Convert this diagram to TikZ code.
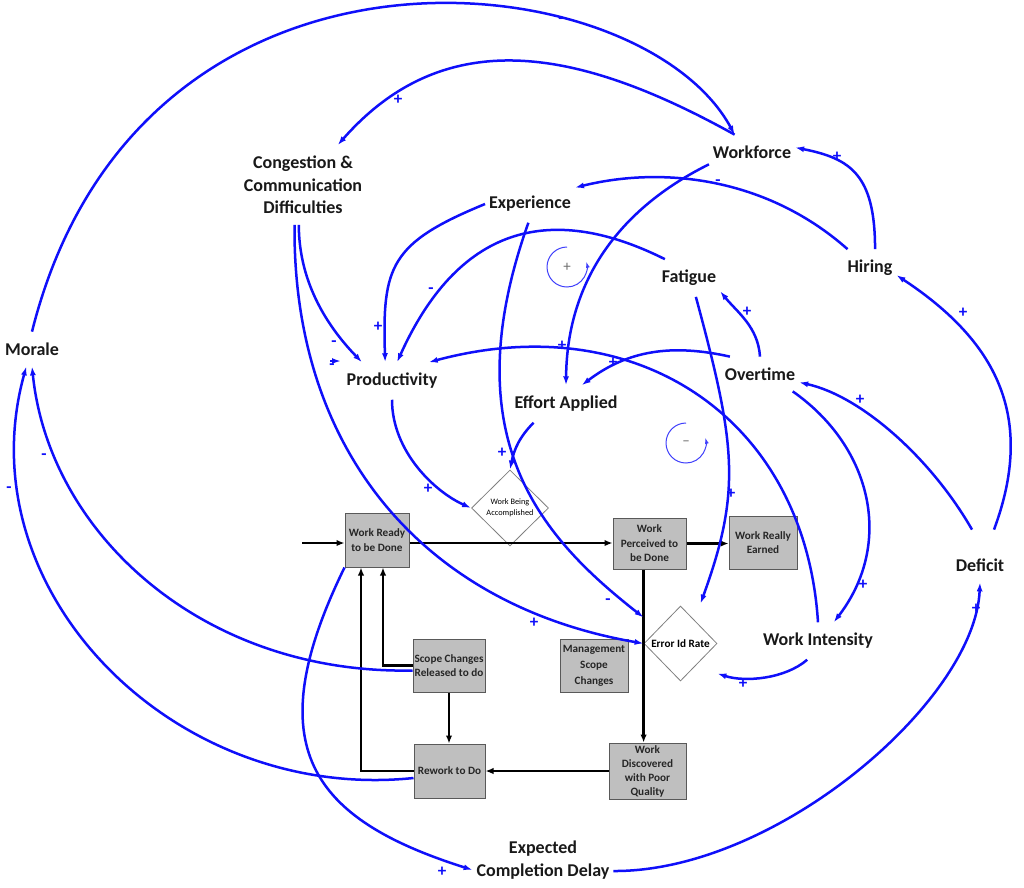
\documentclass[tikz,border=0pt]{standalone}
\usepackage{fontspec}
\setmainfont{Carlito}
\usetikzlibrary{arrows.meta,shapes.geometric}

\definecolor{cld}{RGB}{15,15,250}
\definecolor{stockfill}{RGB}{191,191,191}
\definecolor{stockline}{RGB}{89,89,89}
\definecolor{ratedraw}{RGB}{128,128,128}
\definecolor{loopgray}{RGB}{110,110,110}

\tikzset{
  var/.style={font=\fontsize{18}{22.5}\selectfont\bfseries, text=black!90, align=center, inner sep=2pt, outer xsep=2pt, outer ysep=9pt},
  stock/.style={draw=stockline, fill=stockfill, line width=1pt, align=center, inner sep=1pt, font=\fontsize{11.2}{14.5}\selectfont\bfseries, text=black!85},
  rate/.style={diamond, draw=ratedraw, fill=white, line width=0.8pt, inner sep=0pt, align=center},
  link/.style={draw=cld, line width=2.5pt, -{Latex[length=9pt,width=6pt]}},
  flow/.style={draw=black, line width=2.7pt, -{Latex[length=8pt,width=6.5pt]}},
  pol/.style={text=cld, font=\fontsize{17}{17}\selectfont\bfseries, inner sep=0pt},
  loopsign/.style={text=loopgray, font=\fontsize{15}{15}\selectfont, inner sep=0pt},
  loopring/.style={draw=cld!80, line width=1pt, -{Latex[length=6pt,width=4pt]}}
}

\begin{document}
\begin{tikzpicture}[x=1pt, y=-1pt]
  \fill[white] (0,0) rectangle (1024,887);
  \useasboundingbox (0,0) rectangle (1024,887);

  % variables
  \node (morale) at (32, 349) [var] {Morale};
  \node (cong) at (303, 185) [var] {Congestion \&\\Communication\\Difficulties};
  \node (wf) at (752, 152) [var] {Workforce};
  \node (exp) at (530, 204) [var] {Experience};
  \node (fat) at (689, 278) [var] {Fatigue};
  \node (hire) at (870, 268) [var] {Hiring};
  \node (prod) at (392, 381) [var] {Productivity};
  \node (over) at (760, 374) [var] {Overtime};
  \node (eff) at (566, 404) [var] {Effort Applied};
  \node (wint) at (818, 641) [var] {Work Intensity};
  \node (def) at (980, 565) [var] {Deficit};
  \node (ecd) at (543, 860) [var] {Expected\\Completion Delay};

  % stocks and rates
  \node (wr) at (377, 540) [stock, minimum width=64pt, minimum height=54pt] {Work Ready\\to be Done};
  \node (wp) at (649.5, 543.5) [stock, minimum width=73pt, minimum height=51pt] {Work\\Perceived to\\be Done};
  \node (wre) at (763, 542.5) [stock, minimum width=68pt, minimum height=53pt] {Work Really\\Earned};
  \node (msc) at (594, 665.5) [stock, minimum width=68pt, minimum height=53pt, font=\fontsize{11.2}{16}\selectfont\bfseries] {Management\\Scope\\Changes};
  \node (sc) at (449, 665.5) [stock, minimum width=72pt, minimum height=53pt] {Scope Changes\\Released to do};
  \node (rw) at (449.5, 771) [stock, minimum width=71pt, minimum height=54pt] {Rework to Do};
  \node (wd) at (647.5, 771) [stock, minimum width=77pt, minimum height=56pt, font=\fontsize{11.2}{14}\selectfont\bfseries] {Work\\Discovered\\with Poor\\Quality};
  \node (wba) at (510, 508) [rate, minimum width=77pt, minimum height=76pt, font=\fontsize{8.3}{10.5}\selectfont] {Work Being\\Accomplished};
  \node (err) at (680.5, 643.5) [rate, minimum width=73pt, minimum height=75pt, font=\fontsize{11.2}{13}\selectfont\bfseries] {Error Id Rate};

  % flows
  \coordinate (inflow) at (302, 543);
  \draw [flow] (inflow) -- (inflow -| wr.west);
  \draw [flow] (inflow -| wr.east) -- (inflow -| wp.west);
  \draw [flow] (wp.east) -- (wp.east -| wre.west);
  \draw [flow] (wp.south -| err.west) -- (wd.north -| err.west);
  \draw [flow] (wd.west) -- (wd.west -| rw.east);
  \draw [flow] (rw.west) -| ([xshift=-16pt]wr.south);
  \draw [flow] (sc.west) -| ([xshift=6pt]wr.south);
  \draw [flow] (sc.south) -- (sc.south |- rw.north);

  % causal links
  \draw [link] (morale.north) .. controls +(107,-427) and +(-95,-175) .. (wf.135);
  \draw [link] (wf.135) .. controls +(-153,-85) and +(109,-124) .. (cong.49);
  \draw [link] (hire.75) .. controls +(0,-75) and +(55,11) .. (wf.6);
  \draw [link] (hire.140) .. controls +(-80,-71) and +(89,-22) .. (exp.20);
  \draw [link] (wf.196) .. controls +(-87,43) and +(1,-107) .. (eff.north);
  \draw [link] (exp.west) .. controls +(-95,39) and +(-3,-96) .. (prod.110);
  \draw [link] (fat.142) .. controls +(-118,-59) and +(60,-133) .. (prod.75);
  \draw [link] (cong.264) .. controls +(0,60) and +(-32,-33) .. (prod.148);
  \draw [link] (wint.north) .. controls +(-13,-204) and +(208,-56) .. (prod.27);
  \draw [link] (over.north) .. controls +(-2,-30) and +(17,21) .. (fat.337);
  \draw [link] (over.150) .. controls +(-58,-13) and +(46,-35) .. (eff.50);
  \draw [link] (fat.290) .. controls +(40,148) and +(41,-113) .. ([xshift=20pt,yshift=2pt]err.north);
  \draw [link] (exp.265) .. controls +(-78,219) and +(-98,-77) .. ([yshift=26pt]err.west);
  \draw [link] (cong.258) .. controls +(-2,226) and +(-220,-38) .. (err.west);
  \draw [link] (prod.south) .. controls +(0,52) and +(-36,-16) .. (wba.west);
  \draw [link] (eff.210) .. controls +(-14,14) and +(4,-20) .. (wba.north);
  \draw [link] (wint.240) .. controls +(-22,19) and +(28,9) .. ([yshift=-30pt]err.east);
  \draw [link] (over.332) .. controls +(80,56) and +(60,-78) .. (wint.50);
  \draw [link] ([xshift=-8pt,yshift=18pt]def.north) .. controls +(-40,-70) and +(63,14) .. (over.348);
  \draw [link] ([xshift=14pt,yshift=18pt]def.north) .. controls +(42,-113) and +(100,66) .. (hire.345);
  \draw [link] ([yshift=-11pt]ecd.east) .. controls +(163,1) and +(-5,118) .. (def.south);
  \draw [link] (wr.south west) .. controls +(-88,180) and +(-161,-51) .. ([yshift=-10pt]ecd.west);
  \draw [link] ([yshift=-5pt]sc.west) .. controls +(-210,4) and +(17,167) .. (morale.south);
  \draw [link] ([yshift=-7pt]rw.west) .. controls +(-240,25) and +(-62,224) .. (morale.252);
  \coordinate (stubtail) at (330, 361);
  \coordinate (stubtip) at (341, 361);
  \draw [link] (stubtail) -- (stubtip);

  % polarities
  \node (s1) at (561, 21) [pol] {-};
  \node (s2) at (398, 100) [pol] {+};
  \node (s3) at (837, 157) [pol] {+};
  \node (s4) at (718, 183) [pol] {-};
  \node (s5) at (562, 346) [pol] {+};
  \node (s6) at (378, 327) [pol] {+};
  \node (s7) at (431, 291) [pol] {-};
  \node (s8) at (334, 344) [pol] {-};
  \node (s9) at (332, 367) [pol] {-};
  \node (s10) at (747, 312) [pol] {+};
  \node (s11) at (613, 363) [pol] {+};
  \node (s12) at (731, 494) [pol] {+};
  \node (s13) at (608, 602) [pol] {-};
  \node (s14) at (534, 623) [pol] {+};
  \node (s15) at (428, 489) [pol] {+};
  \node (s16) at (502, 453) [pol] {+};
  \node (s17) at (743, 684) [pol] {+};
  \node (s18) at (863, 585) [pol] {+};
  \node (s19) at (860, 400) [pol] {+};
  \node (s20) at (963, 313) [pol] {+};
  \node (s21) at (976, 609) [pol] {+};
  \node (s22) at (442, 872) [pol] {+};
  \node (s23) at (44, 457) [pol] {-};
  \node (s24) at (9, 490) [pol] {-};

  % loop markers
  \node (loopR) at (567, 267) [loopsign] {+};
  \node (loopB) at (686, 443) [loopsign] {\textendash};
  \draw [loopring] ([yshift=20pt]loopR.center) arc [start angle=-90, end angle=-375, radius=20];
  \draw [loopring] ([yshift=20pt]loopB.center) arc [start angle=-90, end angle=-375, radius=20];
\end{tikzpicture}
\end{document}
